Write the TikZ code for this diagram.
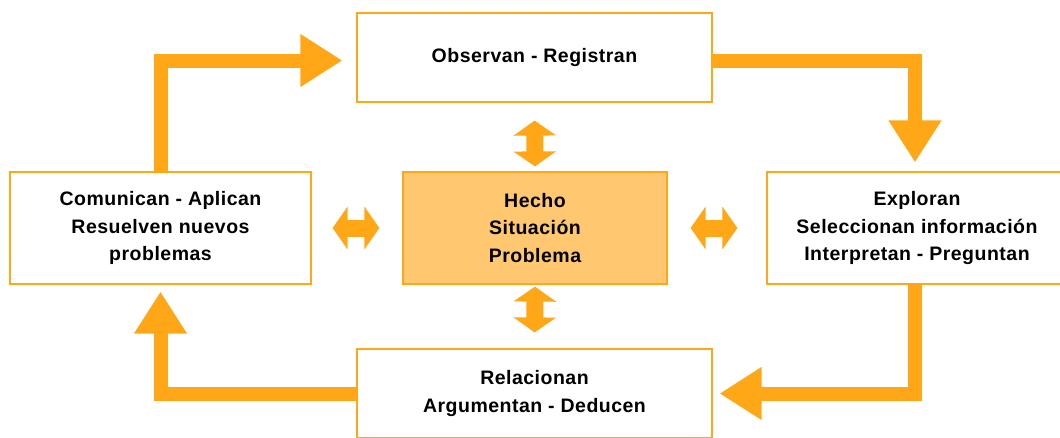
\documentclass[tikz,border=0pt]{standalone}
\usepackage{fontspec}
\setmainfont{Liberation Sans}[LetterSpace=2.5]
\usetikzlibrary{arrows.meta}
\definecolor{naranja}{RGB}{255,167,23}
\definecolor{naranjaclaro}{RGB}{255,200,112}
\tikzset{
	caja/.style={draw=naranja, line width=1.2pt, fill=white, align=center, inner sep=0pt,
		font=\bfseries\fontsize{19.5}{27.5}\selectfont},
	cajacentro/.style={caja, fill=naranjaclaro},
	flechagrande/.style={draw=naranja, line width=14pt, line join=miter,
		-{Triangle[width=50pt,length=42pt]}},
	flechadoble/.style={draw=naranja, line width=17pt,
		{Triangle[width=42pt,length=15pt]}-{Triangle[width=42pt,length=15pt]}}
}
\begin{document}
\begin{tikzpicture}[x=1pt, y=-1pt] %Inicio del diagrama
	\useasboundingbox (0,0) rectangle (1060,437);
	\clip (0,0) rectangle (1060,437);
		%Cajas
	\node[caja, minimum width=355pt, minimum height=89pt] (obs) at (534.5,57.5) {Observan - Registran}; %Arriba
	\node[caja, minimum width=301pt, minimum height=112pt] (com) at (160.5,228) {Comunican - Aplican\\Resuelven nuevos\\problemas}; %Izquierda
	\node[cajacentro, minimum width=264pt, minimum height=112pt] (hecho) at (535,228) {Hecho\\Situación\\Problema}; %Centro
	\node[caja, minimum width=300pt, minimum height=112pt] (exp) at (917,228) {Exploran\\Seleccionan información\\Interpretan - Preguntan}; %Derecha
	\node[caja, minimum width=355pt, minimum height=89pt] (rel) at (534.5,393.5) {Relacionan\\Argumentan - Deducen}; %Abajo
		%Ciclo
	\draw[flechagrande, shorten >=14pt] (com.north) |- ([yshift=-3pt]obs.west); %Comunican a Observan
	\draw[flechagrande, shorten >=9pt] ([yshift=-3pt]obs.east) -| ([xshift=-2pt]exp.north); %Observan a Exploran
	\draw[flechagrande, shorten >=7pt] ([xshift=-2pt]exp.south) |- (rel.east); %Exploran a Relacionan
	\draw[flechagrande, shorten >=7pt] (rel.west) -| (com.south); %Relacionan a Comunican
		%Flechas dobles
	\draw[flechadoble, shorten <=5pt, shorten >=18pt] (hecho.north) -- (obs.south); %Centro y arriba
	\draw[flechadoble, shorten <=2pt, shorten >=16pt] (hecho.south) -- (rel.north); %Centro y abajo
	\draw[flechadoble, shorten <=23pt, shorten >=21pt] (hecho.west) -- (com.east); %Centro e izquierda
	\draw[flechadoble, shorten <=23pt, shorten >=29pt] (hecho.east) -- (exp.west); %Centro y derecha
\end{tikzpicture}
\end{document}
